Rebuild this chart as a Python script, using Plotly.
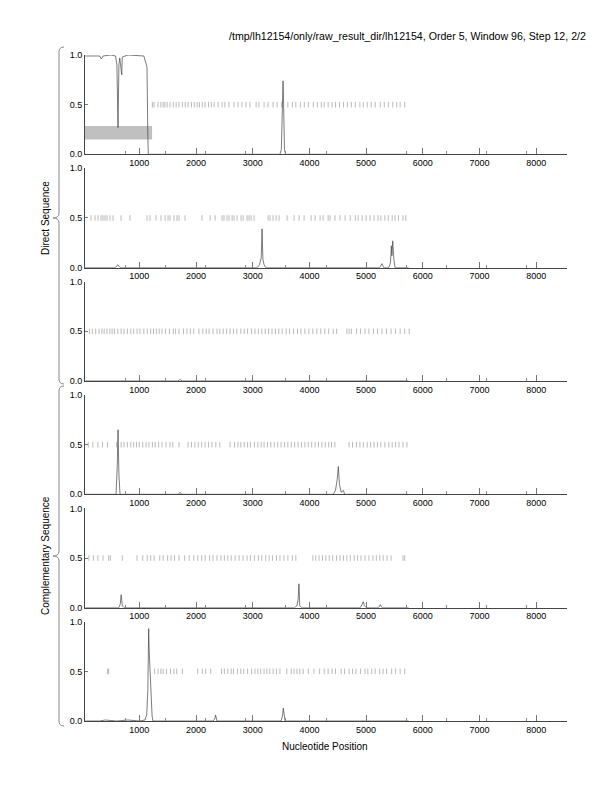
import plotly.graph_objects as go

# ---------------- data ----------------
title_text = "/tmp/lh12154/only/raw_result_dir/lh12154, Order 5, Window 96, Step 12, 2/2"
x_title = "Nucleotide Position"
group_labels = ["Direct Sequence", "Complementary Sequence"]

x_range = [42, 8543]
x_ticks = [1000, 2000, 3000, 4000, 5000, 6000, 7000, 8000]
y_ticks = [0.0, 0.5, 1.0]

# panel 1
p1_x = [48, 200, 300, 330, 360, 500, 580, 605, 624, 640, 655, 690, 700, 800, 1000, 1080, 1110, 1135, 1150, 1158,
        1300, 3480, 3505, 3520, 3535, 3545, 3560, 3580, 5750]
p1_y = [0.99, 0.99, 0.99, 0.96, 0.99, 1.0, 0.99, 0.9, 0.27, 0.9, 0.97, 0.8, 0.98, 1.0, 0.99, 0.99, 0.93, 0.88, 0.2, 0.0,
        0.0, 0.0, 0.05, 0.6, 0.74, 0.5, 0.05, 0.0, 0.0]
p1_ticks = [1230, 1260, 1330, 1380, 1420, 1450, 1490, 1540, 1600, 1650, 1700, 1760, 1810, 1860, 1920, 1970, 2020,
            2060, 2110, 2160, 2220, 2270, 2320, 2390, 2460, 2510, 2580, 2670, 2740, 2810, 2880, 2950, 3060, 3110,
            3200, 3270, 3360, 3430, 3510, 3620, 3700, 3760, 3840, 3910, 3980, 4070, 4140, 4210, 4260, 4330, 4400,
            4460, 4530, 4600, 4670, 4740, 4810, 4890, 4950, 5020, 5090, 5160, 5250, 5320, 5390, 5470, 5540, 5600,
            5680]
# panel 2
p2_x = [48, 580, 620, 660, 700, 3080, 3120, 3150, 3165, 3180, 3200, 3230, 5240, 5280, 5310, 5400, 5430, 5445,
        5455, 5470, 5490, 5510, 5750]
p2_y = [0.0, 0.0, 0.03, 0.0, 0.0, 0.0, 0.03, 0.1, 0.39, 0.08, 0.03, 0.0, 0.0, 0.04, 0.0, 0.0, 0.05, 0.22, 0.12,
        0.27, 0.08, 0.0, 0.0]
p2_ticks = [148, 219, 272, 325, 360, 395, 430, 483, 536, 677, 836, 1136, 1189, 1295, 1383, 1454, 1507, 1542, 1612,
            1665, 1701, 1807, 2106, 2248, 2336, 2459, 2494, 2547, 2583, 2636, 2671, 2724, 2794, 2830, 2900, 2935,
            2971, 3024, 3271, 3306, 3359, 3412, 3465, 3606, 3730, 3818, 3906, 4030, 4100, 4188, 4241, 4330, 4365,
            4450, 4540, 4630, 4720, 4810, 4860, 4930, 5000, 5070, 5140, 5210, 5260, 5330, 5390, 5460, 5510, 5570,
            5650, 5700]
# panel 3
p3_x = [48, 1680, 1720, 1760, 5750]
p3_y = [0.0, 0.0, 0.015, 0.0, 0.0]
p3_ticks = [120, 170, 230, 290, 340, 380, 430, 480, 520, 560, 620, 680, 730, 790, 850, 900, 960, 1010, 1080, 1140,
            1200, 1250, 1300, 1350, 1400, 1460, 1530, 1600, 1640, 1700, 1780, 1840, 1900, 1960, 2050, 2120, 2180,
            2230, 2300, 2370, 2420, 2480, 2540, 2600, 2660, 2720, 2790, 2850, 2910, 2980, 3040, 3100, 3160, 3220,
            3280, 3340, 3400, 3460, 3520, 3590, 3650, 3720, 3790, 3850, 3920, 3990, 4060, 4130, 4200, 4270, 4340,
            4420, 4480, 4660, 4700, 4740, 4830, 4900, 4980, 5050, 5130, 5200, 5280, 5360, 5440, 5520, 5600, 5680,
            5760]
# panel 4
p4_x = [48, 590, 610, 625, 640, 660, 1690, 1720, 1750, 4420, 4460, 4490, 4510, 4530, 4560, 4600, 4620, 4650, 5750]
p4_y = [0.0, 0.0, 0.28, 0.65, 0.2, 0.0, 0.0, 0.02, 0.0, 0.0, 0.04, 0.15, 0.28, 0.1, 0.02, 0.04, 0.0, 0.0, 0.0]
p4_ticks = [100, 180, 270, 350, 440, 600, 680, 730, 790, 850, 900, 950, 1000, 1060, 1120, 1170, 1230, 1280, 1340,
            1400, 1470, 1540, 1590, 1700, 1860, 1920, 1980, 2040, 2100, 2160, 2220, 2280, 2350, 2420, 2600, 2680,
            2740, 2790, 2850, 2910, 2960, 3030, 3090, 3150, 3200, 3260, 3320, 3380, 3440, 3500, 3560, 3620, 3680,
            3740, 3800, 3860, 3920, 3980, 4040, 4100, 4160, 4220, 4280, 4340, 4390, 4450, 4700, 4760, 4830, 4890,
            4950, 5020, 5080, 5140, 5200, 5260, 5330, 5400, 5460, 5520, 5580, 5650, 5720]
# panel 5
p5_x = [48, 640, 665, 680, 700, 730, 3740, 3780, 3800, 3815, 3830, 3860, 4900, 4930, 4950, 4970, 5000, 5220,
        5250, 5280, 5750]
p5_y = [0.0, 0.0, 0.04, 0.13, 0.02, 0.0, 0.0, 0.02, 0.08, 0.24, 0.02, 0.0, 0.0, 0.03, 0.06, 0.02, 0.0, 0.0,
        0.03, 0.0, 0.0]
p5_ticks = [110, 190, 270, 360, 460, 490, 700, 960, 1060, 1140, 1200, 1260, 1360, 1420, 1500, 1560, 1620, 1700,
            1800, 1880, 1960, 2030, 2100, 2160, 2240, 2300, 2370, 2440, 2500, 2560, 2620, 2690, 2760, 2830, 2900,
            2960, 3030, 3100, 3160, 3230, 3290, 3350, 3420, 3480, 3550, 3620, 3700, 3760, 4060, 4110, 4170, 4230,
            4290, 4350, 4410, 4480, 4540, 4600, 4660, 4720, 4790, 4850, 4910, 4980, 5050, 5120, 5180, 5240, 5300,
            5370, 5440, 5650, 5680]
# panel 6
p6_x = [48, 300, 400, 600, 800, 1000, 1100, 1130, 1150, 1165, 1175, 1190, 1210, 1225, 1240, 2300, 2330, 2345,
        2370, 3500, 3525, 3540, 3570, 5750]
p6_y = [0.0, 0.0, 0.01, 0.0, 0.01, 0.0, 0.01, 0.06, 0.3, 0.93, 0.7, 0.45, 0.33, 0.05, 0.0, 0.0, 0.02, 0.06, 0.0,
        0.0, 0.05, 0.13, 0.0, 0.0]
p6_ticks = [440, 460, 1270, 1330, 1380, 1420, 1480, 1550, 1610, 1660, 1760, 2030, 2110, 2170, 2260, 2450, 2500,
            2560, 2620, 2660, 2730, 2790, 2840, 2910, 2980, 3040, 3090, 3140, 3200, 3250, 3300, 3360, 3420, 3480,
            3600, 3680, 3730, 3780, 3830, 3890, 3980, 4080, 4180, 4260, 4330, 4400, 4460, 4560, 4620, 4700, 4760,
            4820, 4900, 4980, 5030, 5100, 5160, 5240, 5300, 5360, 5450, 5520, 5600, 5680]

panels = [(p1_x, p1_y, p1_ticks), (p2_x, p2_y, p2_ticks), (p3_x, p3_y, p3_ticks),
          (p4_x, p4_y, p4_ticks), (p5_x, p5_y, p5_ticks), (p6_x, p6_y, p6_ticks)]

# gray box in panel 1
box_x = [42, 1225]
box_y = [0.15, 0.285]

# ---------------- layout helpers ----------------
OFF = 8  # page body margin
W, H = 612 - OFF, 792 - OFF
# target plot area on page: left 85, right 567, top 55, bottom 721
ML = 85 - OFF
MT = 55 - OFF
MR = (OFF + W) - 567
MB = (OFF + H) - 721
PW = W - ML - MR
PH = H - MT - MB
FONT = "Liberation Sans, Arial, Helvetica, sans-serif"


def py2paper(py):
    return (721 - py) / PH


def px2paper(px):
    return (px - 85) / PW


def clamp(v):
    return max(0.0, min(1.0, v))


panel_h = 99.3
panel_top0 = 55
panel_step = (PH - panel_h) / 5

fig = go.Figure()
layout = dict(width=W, height=H, margin=dict(l=ML, r=MR, t=MT, b=MB),
              paper_bgcolor="white", plot_bgcolor="white", showlegend=False,
              font=dict(family=FONT, size=9, color="black"))

for i, (xs, ys, tks) in enumerate(panels):
    n = i + 1
    xa = "x" if n == 1 else f"x{n}"
    ya = "y" if n == 1 else f"y{n}"
    top = panel_top0 + i * panel_step
    bot = top + panel_h
    fig.add_trace(go.Scatter(x=tks, y=[0.5] * len(tks), mode="markers", xaxis=xa, yaxis=ya,
                             marker=dict(symbol="line-ns-open", size=4, color="#a8a8a8",
                                         line=dict(width=0.8, color="#a8a8a8")),
                             hoverinfo="skip"))
    fig.add_trace(go.Scatter(x=xs, y=ys, mode="lines", xaxis=xa, yaxis=ya,
                             line=dict(color="#444444", width=0.7), hoverinfo="skip"))
    layout[f"xaxis{'' if n == 1 else n}"] = dict(
        domain=[0, 1], anchor=ya, range=x_range, tickmode="array", tickvals=x_ticks,
        ticks="inside", ticklen=6, tickwidth=1, tickcolor="#777", showline=True, linecolor="#444",
        linewidth=1, showgrid=False, zeroline=False, tickfont=dict(size=9, family=FONT),
        minor=dict(ticks="inside", ticklen=3, tickwidth=1, tickcolor="#888", tick0=x_range[0],
                   dtick=(x_range[1] - x_range[0]) / 12, showgrid=False))
    layout[f"yaxis{'' if n == 1 else n}"] = dict(
        domain=[clamp(py2paper(bot)), clamp(py2paper(top))], anchor=xa, range=[0, 1.0], tickmode="array",
        tickvals=y_ticks, ticktext=["0.0", "0.5", "1.0"], ticks="inside", ticklen=3, tickwidth=1,
        tickcolor="#777", showline=True, linecolor="#444", linewidth=1, showgrid=False,
        zeroline=False, tickfont=dict(size=9, family=FONT))

fig.update_layout(**layout)

fig.add_shape(type="rect", xref="x", yref="y", x0=box_x[0], x1=box_x[1], y0=box_y[0], y1=box_y[1],
              fillcolor="#c0c0c0", line=dict(width=0), layer="below")


def brace(py0, py1, pym, spine=59, tip=64, point=53, r=5):
    X = px2paper
    Y = py2paper
    return (f"M {X(tip)},{Y(py0)} Q {X(spine)},{Y(py0)} {X(spine)},{Y(py0 + r)} "
            f"L {X(spine)},{Y(pym - r)} Q {X(spine)},{Y(pym)} {X(point)},{Y(pym)} "
            f"Q {X(spine)},{Y(pym)} {X(spine)},{Y(pym + r)} "
            f"L {X(spine)},{Y(py1 - r)} Q {X(spine)},{Y(py1)} {X(tip)},{Y(py1)}")


for (a, b, m) in [(47, 384, 218), (386, 726, 556)]:
    fig.add_shape(type="path", xref="paper", yref="paper", path=brace(a, b, m),
                  line=dict(color="#888", width=1))

fig.add_annotation(text=title_text, xref="paper", yref="paper", x=px2paper(588), y=py2paper(36),
                   xanchor="right", yanchor="middle", showarrow=False, font=dict(size=10.6, family=FONT))
fig.add_annotation(text=x_title, xref="paper", yref="paper", x=px2paper(325), y=py2paper(746),
                   xanchor="center", yanchor="middle", showarrow=False, font=dict(size=10, family=FONT))
for lbl, pyc in zip(group_labels, [218, 556]):
    fig.add_annotation(text=lbl, xref="paper", yref="paper", x=px2paper(45), y=py2paper(pyc),
                       xanchor="center", yanchor="middle", textangle=-90, showarrow=False,
                       font=dict(size=10, family=FONT))

fig.write_html("out.html")
